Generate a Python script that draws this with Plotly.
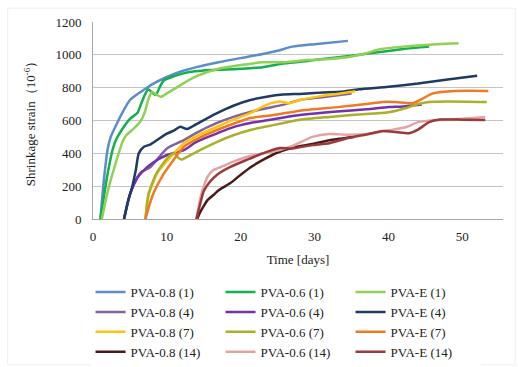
import plotly.graph_objects as go

# ---- data (days, strain x10^-6) ----
p08_1_x = [1, 1.5, 2, 2.4, 3, 4, 5, 6, 7, 8, 10, 12, 14, 17, 20, 23, 25, 27, 30, 34.5]
p08_1_y = [0, 250, 430, 500, 560, 650, 725, 760, 790, 820, 865, 900, 925, 955, 980, 1005, 1025, 1050, 1065, 1085]

p06_1_x = [1, 2, 2.7, 3.2, 4, 5, 6, 6.5, 7, 7.5, 8, 8.5, 9, 9.6, 11, 13, 15, 18, 20, 23, 26, 29, 32, 35, 38, 42, 45.5]
p06_1_y = [0, 280, 430, 490, 550, 610, 645, 700, 755, 790, 770, 755, 800, 845, 870, 895, 905, 910, 915, 925, 948, 962, 980, 995, 1012, 1035, 1050]

pE_1_x = [1.2, 2, 3, 4, 4.5, 5.5, 6.5, 7, 7.5, 8, 8.5, 9.2, 10, 12, 14, 17, 20, 23, 26, 29, 32, 35, 37, 39, 42, 45, 49.5]
pE_1_y = [0, 170, 330, 470, 510, 550, 600, 650, 730, 775, 760, 745, 765, 820, 870, 915, 938, 955, 955, 968, 975, 990, 1010, 1035, 1050, 1060, 1070]

p08_4_x = [4.2, 5, 6, 6.5, 7.8, 10, 12.3, 14, 16.8, 19, 21.3, 23.5, 25.7, 28, 31, 35]
p08_4_y = [0, 150, 255, 285, 317, 430, 480, 525, 585, 622, 652, 675, 695, 725, 742, 765]

p06_4_x = [4.2, 5, 6, 6.5, 8, 10, 12.3, 14, 16.8, 19, 21.3, 24, 28, 33, 37, 40, 42, 44.5]
p06_4_y = [0, 150, 250, 280, 340, 390, 420, 470, 522, 560, 585, 605, 633, 655, 668, 682, 686, 698]

pE_4_x = [4.2, 4.7, 5.3, 5.8, 6.2, 6.9, 7.8, 10, 11, 11.8, 12.7, 13.5, 14.5, 16.8, 19, 21.3, 23.5, 25.7, 28, 30, 33.4, 36, 40, 44, 48, 52]
pE_4_y = [0, 100, 195, 300, 400, 440, 455, 520, 540, 562, 548, 565, 590, 645, 690, 725, 745, 758, 762, 768, 775, 790, 805, 825, 850, 872]

p08_7_x = [7.1, 7.3, 7.6, 8.7, 9.2, 10.5, 12.3, 14, 16.8, 19, 21.3, 23.5, 25.3, 26.6, 28, 31, 33, 35.5]
p08_7_y = [0, 80, 158, 280, 310, 378, 462, 505, 562, 605, 645, 695, 715, 705, 725, 750, 762, 778]

p06_7_x = [7.1, 7.5, 8.5, 9.5, 10.5, 11, 11.5, 12, 13, 14.5, 16.8, 19, 21.3, 24, 28, 32, 35, 38, 40, 42.4, 44, 45.5, 48, 53.3]
p06_7_y = [0, 150, 270, 340, 390, 400, 375, 362, 385, 420, 470, 510, 542, 568, 605, 622, 633, 643, 650, 676, 700, 713, 716, 713]

pE_7_x = [7.1, 7.6, 8.2, 9.5, 10.9, 12.3, 14, 16.8, 19, 21.3, 24.4, 28, 33.4, 37, 39.2, 41, 43.2, 44.5, 46, 49, 53.5]
pE_7_y = [0, 80, 158, 270, 360, 440, 485, 542, 580, 615, 633, 660, 683, 700, 713, 712, 705, 730, 765, 780, 780]

p08_14_x = [14.1, 14.5, 15, 15.5, 16.3, 17, 18.6, 20, 21.5, 23, 25, 27.6, 30, 32, 35.2]
p08_14_y = [0, 40, 80, 115, 146, 175, 219, 270, 320, 360, 405, 440, 460, 480, 500]

p06_14_x = [14, 14.5, 15, 15.5, 16.3, 17.5, 19, 20.8, 23, 25.3, 27, 29.7, 32, 34.7, 37.9, 40, 42.4, 44, 46.8, 50, 53.1]
p06_14_y = [0, 120, 200, 256, 298, 320, 350, 378, 400, 420, 445, 500, 518, 513, 523, 540, 560, 590, 603, 610, 621]

pE_14_x = [14, 14.5, 15, 15.8, 16.8, 18.6, 20.8, 23, 25.3, 27, 29.7, 32, 34.3, 37, 39.2, 41, 42.8, 44, 45.5, 47, 50, 53.1]
pE_14_y = [0, 90, 170, 225, 270, 317, 360, 400, 432, 430, 450, 462, 490, 515, 536, 530, 523, 545, 590, 606, 605, 603]

names = ["PVA-0.8 (1)", "PVA-0.6 (1)", "PVA-E (1)",
         "PVA-0.8 (4)", "PVA-0.6 (4)", "PVA-E (4)",
         "PVA-0.8 (7)", "PVA-0.6 (7)", "PVA-E (7)",
         "PVA-0.8 (14)", "PVA-0.6 (14)", "PVA-E (14)"]
xs = [p08_1_x, p06_1_x, pE_1_x, p08_4_x, p06_4_x, pE_4_x,
      p08_7_x, p06_7_x, pE_7_x, p08_14_x, p06_14_x, pE_14_x]
ys = [p08_1_y, p06_1_y, pE_1_y, p08_4_y, p06_4_y, pE_4_y,
      p08_7_y, p06_7_y, pE_7_y, p08_14_y, p06_14_y, pE_14_y]
colors = ["#5B8CCB", "#12B04E", "#8FD154",
          "#8064A2", "#7431A8", "#1F3A63",
          "#FFC20E", "#A9B02A", "#EE7A22",
          "#4A1A1A", "#E3A3A3", "#9B3A3A"]

fig = go.Figure()
for n, x, y, c in zip(names, xs, ys, colors):
    fig.add_trace(go.Scatter(x=x, y=y, mode="lines", name=n,
                             line=dict(color=c, width=2.5, shape="spline", smoothing=0.6)))

font = "Liberation Serif"
fig.update_layout(
    width=518, height=367,
    margin=dict(l=93, r=15, t=22, b=148, autoexpand=False),
    paper_bgcolor="white", plot_bgcolor="white",
    font=dict(family=font, size=13, color="#222222"),
    showlegend=True,
    legend=dict(orientation="h", x=-0.006, y=-0.295, xanchor="left", yanchor="top",
                entrywidth=85, entrywidthmode="pixels", tracegroupgap=0,
                font=dict(family=font, size=13, color="#222222"),
                itemwidth=30),
    xaxis=dict(range=[0, 55.5], tickvals=[0, 10, 20, 30, 40, 50], showgrid=False,
               showline=True, linecolor="#A6A6A6", linewidth=1, ticks="",
               zeroline=False, ticklabelstandoff=5,
               title=dict(text="Time [days]", font=dict(family=font, size=13), standoff=12)),
    yaxis=dict(range=[0, 1200], dtick=200, showgrid=True, gridcolor="#C4C4C4", gridwidth=1,
               showline=True, linecolor="#A6A6A6", linewidth=1, ticks="", zeroline=False,
               ticklabelstandoff=8,
               title=dict(text="Shrinkage strain（10<sup>-6</sup>）", font=dict(family=font, size=13), standoff=16)),
)
fig.add_shape(type="rect", xref="paper", yref="paper", x0=-0.208, x1=1.03, y0=-0.74, y1=1.07,
              line=dict(color="#EFEFEF", width=1))
fig.write_html("out.html")
